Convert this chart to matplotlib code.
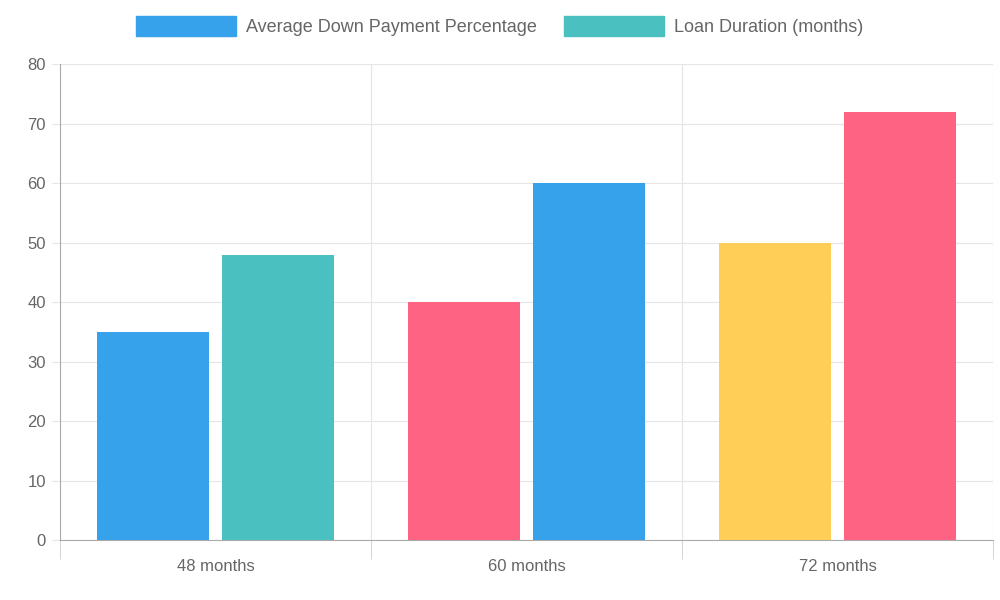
import matplotlib
matplotlib.use("Agg")
import matplotlib.pyplot as plt
import numpy as np
from matplotlib.patches import Patch

categories = ["48 months", "60 months", "72 months"]
down_payment = [35, 40, 50]
loan_duration = [48, 60, 72]
labels = ["Average Down Payment Percentage", "Loan Duration (months)"]
colors1 = ["#36A2EB", "#FF6384", "#FFCE56"]
colors2 = ["#4BC0C0", "#36A2EB", "#FF6384"]

plt.rcParams['font.family'] = ['Liberation Sans', 'DejaVu Sans']
fig = plt.figure(figsize=(10, 6), dpi=100)
ax = fig.add_axes([0.060, 0.10, 0.933, 0.793])
x = np.arange(len(categories))
w = 0.36
ax.bar(x - 0.2, down_payment, w, color=colors1, zorder=3)
ax.bar(x + 0.2, loan_duration, w, color=colors2, zorder=3)
ax.set_xlim(-0.5, 2.5)
ax.set_ylim(0, 80)
ax.set_yticks(range(0, 81, 10))
ax.set_xticks(x)
ax.set_xticklabels(categories)
ax.set_xticks([-0.5, 0.5, 1.5, 2.5], minor=True)
ax.tick_params(axis='x', which='major', length=0, pad=14, labelsize=12, labelcolor='#666666')
ax.tick_params(axis='x', which='minor', length=14, color='#cccccc')
ax.tick_params(axis='y', length=6, color='#e5e5e5', labelsize=12, labelcolor='#666666', pad=4)
ax.grid(axis='y', color='#e5e5e5', zorder=0)
ax.grid(axis='x', which='minor', color='#e5e5e5', zorder=0)
for s in ['top', 'right']:
    ax.spines[s].set_visible(False)
for s in ['left', 'bottom']:
    ax.spines[s].set_color('#aaaaaa')
handles = [Patch(color=colors1[0]), Patch(color=colors2[0])]
fig.legend(handles, labels, loc='upper center', bbox_to_anchor=(0.5, 1.0), ncol=2,
           frameon=False, handlelength=5.5, handleheight=1.3, fontsize=13,
           labelcolor='#666666', columnspacing=1.5, handletextpad=0.6)
fig.savefig("out.png")
